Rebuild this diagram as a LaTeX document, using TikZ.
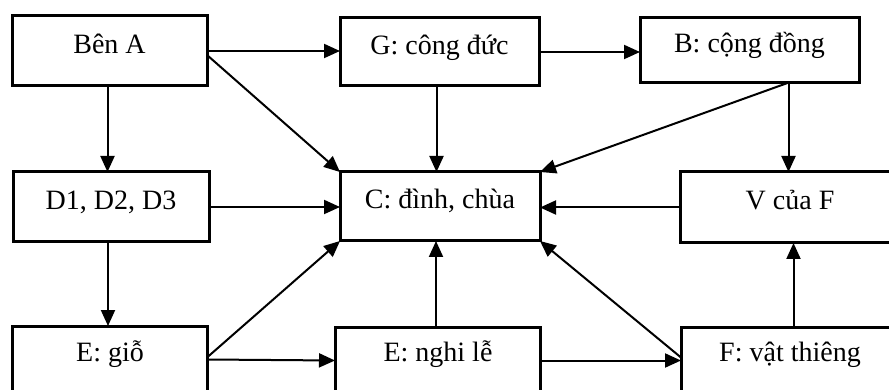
\documentclass[tikz,border=0pt]{standalone}
\usepackage{fontspec}
\setmainfont{Liberation Serif}
\usetikzlibrary{arrows.meta}
\begin{document}
\begin{tikzpicture}[x=1pt,y=-1pt,
  box/.style={draw, line width=3pt, inner sep=0pt, outer sep=0pt, anchor=north west,
    font=\fontsize{28}{34}\selectfont, text height=0.72em, text depth=0.28em},
  lbl/.style={inner sep=0pt, font=\fontsize{28}{34}\selectfont, text height=0.72em, text depth=0.28em},
  arr/.style={line width=2pt, -{Triangle[length=16pt,width=14pt]}}]
\useasboundingbox (0,0) rectangle (889,390);
\clip (0,0) rectangle (889,390);
% boxes
\node[box, minimum width=195pt, minimum height=70pt] (A) at (12,16) {Bên A};
\node[box, minimum width=199pt, minimum height=68pt] (G) at (340,18) {G: công đức};
\node[box, minimum width=219pt, minimum height=65pt] (B) at (640,18) {B: cộng đồng};
\node[box, minimum width=196pt, minimum height=70pt] (D) at (13,172) {D1, D2, D3};
\node[box, minimum width=200pt, minimum height=69pt] (C) at (340,172) {C: đình, chùa};
\node[box, minimum width=220pt, minimum height=71pt] (V) at (680,172) {V của F};
\node[box, minimum width=195pt, minimum height=67pt] (E1) at (12,326) {};
\node[box, minimum width=205pt, minimum height=67pt] (E2) at (335,327) {};
\node[box, minimum width=219pt, minimum height=67pt] (F) at (681,327) {};
\node[lbl] (tE1) at (110,359) {E: giỗ};
\node[lbl] (tE2) at (438,359) {E: nghi lễ};
\node[lbl] (tF) at (790,359) {F: vật thiêng};
% connectors
\draw[arr] (A.east) -- (A.east -| G.west);
\draw[arr] ([yshift=-4pt]A.east) -- (C.north west);
\draw[arr] ([xshift=-2pt]A.south) -- ([xshift=-2pt]A.south |- D.north);
\draw[arr] ([xshift=-3pt]G.south) -- ([xshift=-3pt]G.south |- C.north);
\draw[arr] (G.east) -- (G.east -| B.west);
\draw[arr] ([xshift=38pt]B.south) -- (C.north east);
\draw[arr] ([xshift=39pt]B.south) -- ([xshift=39pt]B.south |- V.north);
\draw[arr] (D.east) -- (D.east -| C.west);
\draw[arr] ([xshift=-3pt]D.south) -- ([xshift=-3pt]D.south |- E1.north);
\draw[arr] ([yshift=2pt]E1.east) -- (C.south west);
\draw[arr] (E1.east) -- (E2.west);
\draw[arr] ([xshift=-1.5pt]E2.north) -- ([xshift=-1.5pt]E2.north |- C.south);
\draw[arr] (V.west) -- (V.west -| C.east);
\draw[arr] ([xshift=3pt]F.north) -- ([xshift=3pt]F.north |- V.south);
\draw[arr] ([yshift=3pt]F.west) -- (C.south east);
\draw[arr] (E2.east) -- (F.west);
\end{tikzpicture}
\end{document}
